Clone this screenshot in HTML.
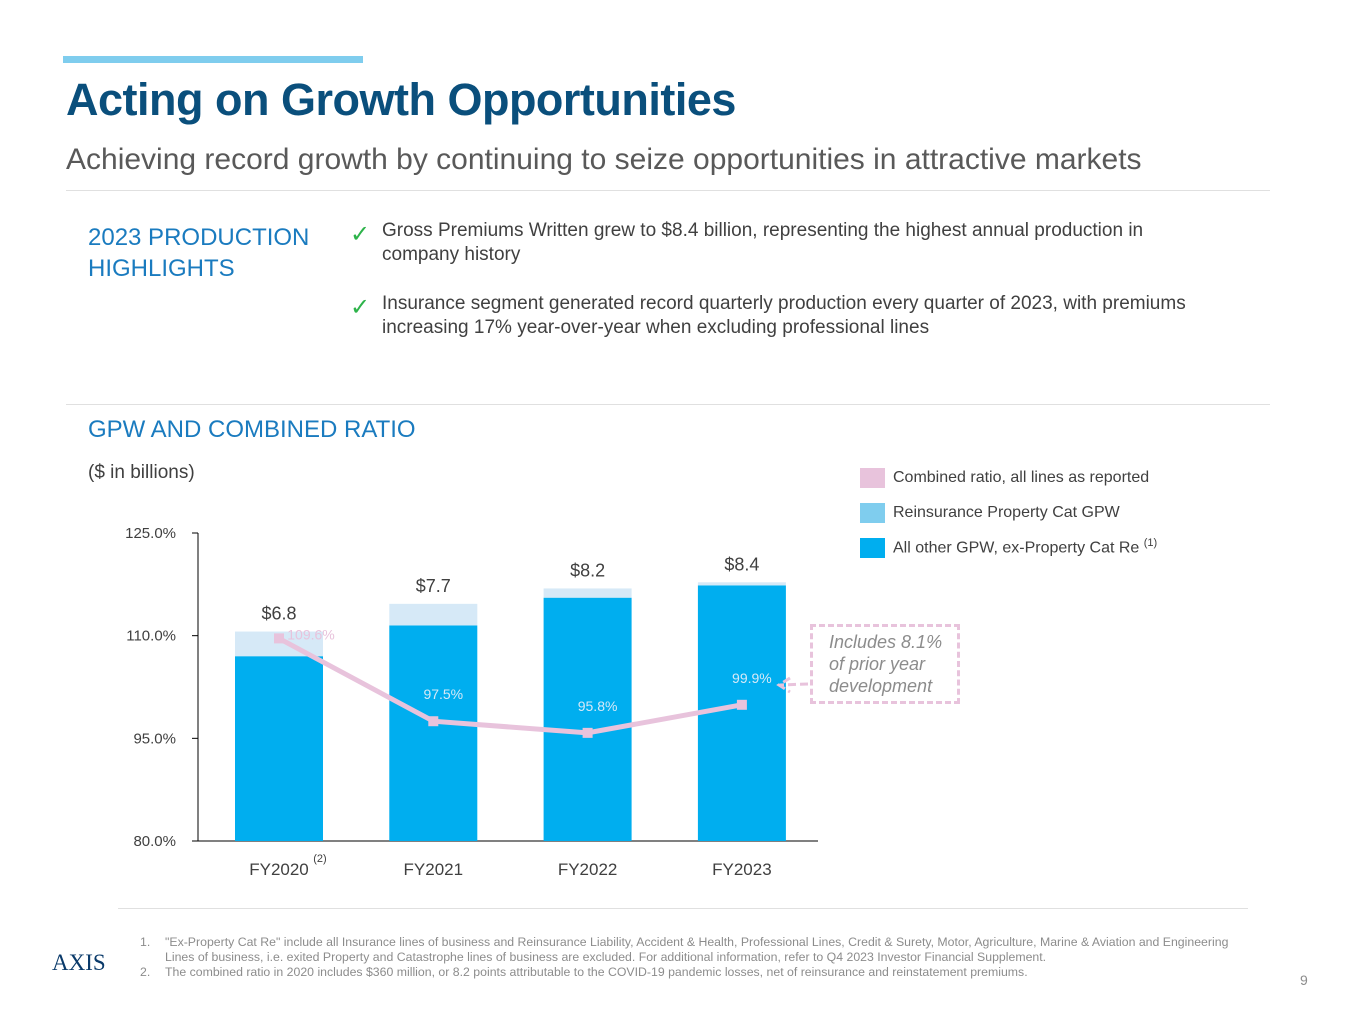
<!DOCTYPE html>
<html><head><meta charset="utf-8"><style>
body{margin:0;width:1365px;height:1024px;background:#fff;font-family:"Liberation Sans",sans-serif;position:relative;overflow:hidden}
.a{position:absolute}
</style></head><body>
<div class="a" style="left:63px;top:56px;width:300px;height:7px;background:#7fcdee"></div>
<div class="a" style="left:66px;top:74px;font-size:45px;font-weight:bold;color:#0a4f7c;letter-spacing:-0.5px">Acting on Growth Opportunities</div>
<div class="a" style="left:66px;top:143px;font-size:30px;color:#595959">Achieving record growth by continuing to seize opportunities in attractive markets</div>
<div class="a" style="left:66px;top:190px;width:1204px;height:1px;background:#e0e0e0"></div>
<div class="a" style="left:88px;top:222px;font-size:24px;line-height:31px;color:#1a7bbf">2023 PRODUCTION<br>HIGHLIGHTS</div>
<div class="a" style="left:350px;top:220px;font-size:24px;color:#2db34a">✓</div>
<div class="a" style="left:382px;top:219px;width:830px;font-size:19px;line-height:24px;color:#404040">Gross Premiums Written grew to $8.4 billion, representing the highest annual production in company history</div>
<div class="a" style="left:350px;top:293px;font-size:24px;color:#2db34a">✓</div>
<div class="a" style="left:382px;top:292px;width:880px;font-size:19px;line-height:24px;color:#404040">Insurance segment generated record quarterly production every quarter of 2023, with premiums increasing 17% year-over-year when excluding professional lines</div>
<div class="a" style="left:66px;top:404px;width:1204px;height:1px;background:#e0e0e0"></div>
<div class="a" style="left:88px;top:416px;font-size:24px;color:#1a7bbf">GPW AND COMBINED RATIO</div>
<div class="a" style="left:88px;top:462px;font-size:19px;color:#404040">($ in billions)</div>

<div class="a" style="left:860px;top:468px;font-size:16px;color:#404040"><span style="display:inline-block;width:25px;height:20px;background:#e8c3dc;vertical-align:middle;margin-right:8px"></span>Combined ratio, all lines as reported</div>
<div class="a" style="left:860px;top:503px;font-size:16px;color:#404040"><span style="display:inline-block;width:25px;height:20px;background:#7fcdee;vertical-align:middle;margin-right:8px"></span>Reinsurance Property Cat GPW</div>
<div class="a" style="left:860px;top:537px;font-size:16px;color:#404040"><span style="display:inline-block;width:25px;height:20px;background:#00aeef;vertical-align:middle;margin-right:8px"></span>All other GPW, ex-Property Cat Re <sup style="font-size:11px">(1)</sup></div>

<svg class="a" style="left:0;top:0" width="1365" height="1024" id="chart"></svg>

<div class="a" style="left:810px;top:624px;width:150px;height:80px;border:3px dashed #e8c3dc;font-style:italic;font-size:18px;line-height:22px;color:#8c8c8c;padding:4px 0 0 16px;box-sizing:border-box">Includes 8.1%<br>of prior year<br>development</div>

<div class="a" style="left:118px;top:908px;width:1130px;height:1px;background:#e0e0e0"></div>
<div class="a" style="left:52px;top:950px;font-family:'Liberation Serif',serif;font-size:23px;color:#0a3a6a">AXIS</div>
<div class="a" style="left:140px;top:935px;width:1110px;font-size:12.3px;line-height:15px;color:#8c8c8c">
<div style="padding-left:25px;text-indent:-25px"><span style="display:inline-block;width:25px;text-indent:0">1.</span>"Ex-Property Cat Re" include all Insurance lines of business and Reinsurance Liability, Accident &amp; Health, Professional Lines, Credit &amp; Surety, Motor, Agriculture, Marine &amp; Aviation and Engineering Lines of business, i.e. exited Property and Catastrophe lines of business are excluded. For additional information, refer to Q4 2023 Investor Financial Supplement.</div>
<div><span style="display:inline-block;width:25px">2.</span>The combined ratio in 2020 includes $360 million, or 8.2 points attributable to the COVID-19 pandemic losses, net of reinsurance and reinstatement premiums.</div>
</div>
<div class="a" style="left:1300px;top:972px;font-size:14px;color:#8c8c8c">9</div>

<script>
const categories=["FY2020","FY2021","FY2022","FY2023"];
const otherGpw=[6.0,7.0,7.9,8.3];
const catGpw=[0.8,0.7,0.3,0.1];
const totalLabels=["$6.8","$7.7","$8.2","$8.4"];
const combinedRatio=[109.6,97.5,95.8,99.9];
const yTicks=[80,95,110,125];
const NS="http://www.w3.org/2000/svg";
const svg=document.getElementById('chart');
const x0=198,x1=818,yBase=841,yTop=533;
const yR=v=>yBase-(v-80)/(125-80)*(yBase-yTop);
const yG=v=>yBase-v/10*(yBase-yTop);
const step=154.3;
const xC=i=>279+step*i;
function mk(t,a){const e=document.createElementNS(NS,t);for(const k in a)e.setAttribute(k,a[k]);svg.appendChild(e);return e;}
let ax=mk('line',{x1:x0,y1:yTop,x2:x0,y2:yBase,stroke:'#000','stroke-width':1});


let bx=mk('line',{x1:x0,y1:yBase,x2:x1,y2:yBase,stroke:'#000','stroke-width':1});


yTicks.forEach(t=>{
  const y=yR(t);
  const tk=mk('line',{x1:x0-6,y1:y,x2:x0,y2:y,stroke:'#000'});
  
  
  const tx=mk('text',{x:x0-22,y:y+5,'text-anchor':'end','font-size':15,fill:'#404040'});
  tx.textContent=t.toFixed(1)+'%';
  
  
});
const bw=88;
categories.forEach((c,i)=>{
  const cx=xC(i);
  const r1=mk('rect',{x:cx-bw/2,y:yG(otherGpw[i]),width:bw,height:yBase-yG(otherGpw[i]),fill:'#00aeef'});
  
  
  const r2=mk('rect',{x:cx-bw/2,y:yG(otherGpw[i]+catGpw[i]),width:bw,height:yG(otherGpw[i])-yG(otherGpw[i]+catGpw[i]),fill:'#d6e9f7'});
  
  
  const tl=mk('text',{x:cx,y:yG(otherGpw[i]+catGpw[i])-12,'text-anchor':'middle','font-size':18,fill:'#404040'});
  tl.textContent=totalLabels[i];
  
  
  const cl=mk('text',{x:cx,y:875,'text-anchor':'middle','font-size':17,fill:'#404040'});
  cl.textContent=c;
  
  
});
const fn=mk('text',{x:320,y:862,'text-anchor':'middle','font-size':11,fill:'#404040'});
fn.textContent='(2)';


const pts=combinedRatio.map((v,i)=>xC(i)+','+yR(v)).join(' ');
const pl=mk('polyline',{points:pts,fill:'none',stroke:'#e8c3dc','stroke-width':5});


combinedRatio.forEach((v,i)=>{
  const m=mk('rect',{x:xC(i)-5,y:yR(v)-5,width:10,height:10,fill:'#e8c3dc'});
  
  
  const lx=i===0?xC(i)+32:xC(i)+10;
  const ly=i===0?yR(v)+1:yR(v)-22;
  const t=mk('text',{x:lx,y:ly,'text-anchor':'middle','font-size':14,fill:i===0?'#e8c3dc':'#d6e9f7'});
  t.textContent=v.toFixed(1)+'%';
  
  
});
const ar=mk('path',{d:'M808,684 L780,685 M790,678 L779,685 L790,692',fill:'none',stroke:'#e8c3dc','stroke-width':3,'stroke-dasharray':'8,4'});


</script>
</body></html>
